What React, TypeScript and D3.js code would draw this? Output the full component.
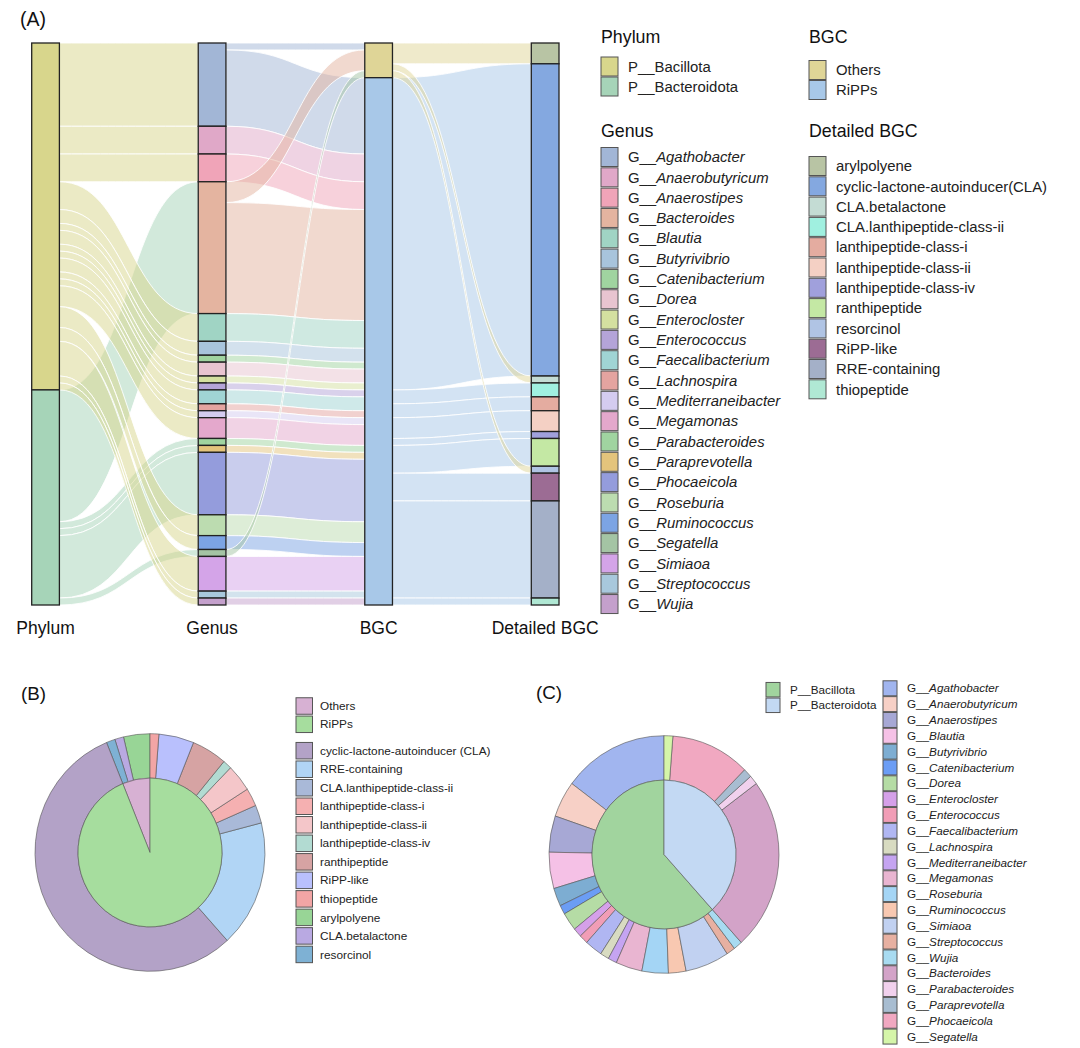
import React from 'react';
import * as d3 from 'd3';

const FONT = '"Liberation Sans", Arial, sans-serif';

// ---- Sankey data (A) ----
const phyla = ['P__Bacillota', 'P__Bacteroidota'];
const phylumColors = ['#d8d68c', '#a6d4b8'];

const genera = [
  'Agathobacter', 'Anaerobutyricum', 'Anaerostipes', 'Bacteroides', 'Blautia', 'Butyrivibrio',
  'Catenibacterium', 'Dorea', 'Enterocloster', 'Enterococcus', 'Faecalibacterium', 'Lachnospira',
  'Mediterraneibacter', 'Megamonas', 'Parabacteroides', 'Paraprevotella', 'Phocaeicola', 'Roseburia',
  'Ruminococcus', 'Segatella', 'Simiaoa', 'Streptococcus', 'Wujia',
];
// 0 = Bacillota, 1 = Bacteroidota
const genusPhylum = [0, 0, 0, 1, 0, 0, 0, 0, 0, 0, 0, 0, 0, 0, 1, 1, 1, 0, 0, 1, 0, 0, 0];
const genusCount = [12, 4, 4, 19, 4, 2, 1, 2, 1, 1, 2, 1, 1, 3, 1, 1, 9, 3, 2, 1, 5, 1, 1];
const genusToOthers = [1, 0, 0, 3, 0, 0, 0, 0, 0, 0, 0, 0, 0, 0, 0, 0, 0, 0, 0, 1, 0, 0, 0];
const genusColors = [
  '#a2b6d6', '#e0a8c8', '#f0a4b8', '#e4b4a0', '#a0d4c4', '#a8c4dc',
  '#a0d4a0', '#e8c4d0', '#d4e0a0', '#b4a4d8', '#a0d4d4', '#e4a4a0',
  '#d4ccf0', '#e4a8cc', '#a0d4a0', '#e4c47c', '#949cdc', '#bcdcb0',
  '#7ca4e4', '#a4c4a4', '#d4a4e8', '#a8c8dc', '#c4a0cc',
];

const bgcTypes = ['Others', 'RiPPs'];
const bgcColors = ['#dfd597', '#a8c8e8'];

const detailed = [
  'arylpolyene', 'cyclic-lactone-autoinducer(CLA)', 'CLA.betalactone', 'CLA.lanthipeptide-class-ii',
  'lanthipeptide-class-i', 'lanthipeptide-class-ii', 'lanthipeptide-class-iv', 'ranthipeptide',
  'resorcinol', 'RiPP-like', 'RRE-containing', 'thiopeptide',
];
// 0 = Others, 1 = RiPPs
const detailedType = [0, 1, 0, 1, 1, 1, 1, 1, 0, 1, 1, 1];
const detailedCount = [3, 45, 1, 2, 2, 3, 1, 4, 1, 4, 14, 1];
const detailedColors = [
  '#b8c4a4', '#84a8e0', '#c4dcd4', '#a0f0e0', '#e4aca0', '#f4d0c4',
  '#a0a0dc', '#c4e8a4', '#b0c4e4', '#9c6c94', '#a4b0c8', '#b0e8d4',
];
const axisLabels = ['Phylum', 'Genus', 'BGC', 'Detailed BGC'];

// ---- Pie B data ----
const pieBInner = ['Others', 'RiPPs'];
const pieBInnerColors = ['#d7b1d3', '#a6dd9e'];
const pieBLegend = [
  'cyclic-lactone-autoinducer (CLA)', 'RRE-containing', 'CLA.lanthipeptide-class-ii', 'lanthipeptide-class-i',
  'lanthipeptide-class-ii', 'lanthipeptide-class-iv', 'ranthipeptide', 'RiPP-like', 'thiopeptide',
  'arylpolyene', 'CLA.betalactone', 'resorcinol',
];
const pieBLegendColors = [
  '#b3a2c7', '#b1d5f5', '#a9b9d8', '#f5b0b1', '#f4c6c9', '#b2dbd2',
  '#d6a3a3', '#b9c0fd', '#f2a5a5', '#98d596', '#b9a9e2', '#7eb1d4',
];
// ring order, counter-clockwise from 12 o'clock
const pieBOuterOrder = [
  'arylpolyene', 'CLA.betalactone', 'resorcinol', 'cyclic-lactone-autoinducer (CLA)', 'RRE-containing',
  'CLA.lanthipeptide-class-ii', 'lanthipeptide-class-i', 'lanthipeptide-class-ii', 'lanthipeptide-class-iv',
  'ranthipeptide', 'RiPP-like', 'thiopeptide',
];
const pieBOuterValues = [3, 1, 1, 45, 14, 2, 2, 3, 1, 4, 4, 1];

// ---- Pie C data ----
const pieCInner = ['P__Bacillota', 'P__Bacteroidota'];
const pieCInnerColors = ['#a1d49e', '#c3d9f3'];
const pieCOuter = [
  'Agathobacter', 'Anaerobutyricum', 'Anaerostipes', 'Blautia', 'Butyrivibrio', 'Catenibacterium',
  'Dorea', 'Enterocloster', 'Enterococcus', 'Faecalibacterium', 'Lachnospira', 'Mediterraneibacter',
  'Megamonas', 'Roseburia', 'Ruminococcus', 'Simiaoa', 'Streptococcus', 'Wujia',
  'Bacteroides', 'Parabacteroides', 'Paraprevotella', 'Phocaeicola', 'Segatella',
];
const pieCOuterValues = [12, 4, 4, 4, 2, 1, 2, 1, 1, 2, 1, 1, 3, 3, 2, 5, 1, 1, 19, 1, 1, 9, 1];
const pieCOuterColors = [
  '#a1b5ef', '#f7d0c6', '#a7a8d5', '#f5c1e6', '#7dadd2', '#6b9df5',
  '#b5dca5', '#d5a0e9', '#f19db6', '#b0b6f2', '#d8dbc1', '#c5a4f1',
  '#e9b5d1', '#a4d5f5', '#f8c8b1', '#c1d1f1', '#e7b0a1', '#a8dbf1',
  '#d3a3c8', '#f1d1ed', '#a8bdd1', '#f1a8c1', '#d5f5a9',
];

// ---- Sankey layout ----
interface SNode { key: string; color: string; value: number; y0: number; y1: number; outs: SLink[]; ins: SLink[] }
interface SLink { source: SNode; target: SNode; value: number; sy0: number; sy1: number; ty0: number; ty1: number }

const NODE_W = 27.7;
const total = d3.sum(genusCount);
const yScale = d3.scaleLinear().domain([0, total]).range([43, 605]);
const xScale = d3.scalePoint<number>().domain([0, 1, 2, 3]).range([31.7, 531.3]);
const h = (v: number) => yScale(v) - yScale(0);

function buildSankey() {
  const mk = (key: string, color: string): SNode => ({ key, color, value: 0, y0: 0, y1: 0, outs: [], ins: [] });
  const stages: SNode[][] = [
    phyla.map((p, i) => mk(p, phylumColors[i])),
    genera.map((g, i) => mk(g, genusColors[i])),
    bgcTypes.map((b, i) => mk(b, bgcColors[i])),
    detailed.map((d, i) => mk(d, detailedColors[i])),
  ];
  const links: SLink[] = [];
  const add = (s: SNode, t: SNode, v: number) => {
    if (v <= 0) return;
    const l: SLink = { source: s, target: t, value: v, sy0: 0, sy1: 0, ty0: 0, ty1: 0 };
    s.outs.push(l);
    t.ins.push(l);
    links.push(l);
  };
  genera.forEach((_, i) => add(stages[0][genusPhylum[i]], stages[1][i], genusCount[i]));
  genera.forEach((_, i) => {
    add(stages[1][i], stages[2][0], genusToOthers[i]);
    add(stages[1][i], stages[2][1], genusCount[i] - genusToOthers[i]);
  });
  detailed.forEach((_, i) => add(stages[2][detailedType[i]], stages[3][i], detailedCount[i]));

  stages.forEach((col) => {
    let acc = 0;
    col.forEach((n) => {
      n.value = Math.max(d3.sum(n.ins, (l) => l.value), d3.sum(n.outs, (l) => l.value));
      n.y0 = yScale(acc);
      acc += n.value;
      n.y1 = yScale(acc);
    });
  });
  stages.forEach((col) =>
    col.forEach((n) => {
      let a = n.y0;
      n.outs.sort((p, q) => p.target.y0 - q.target.y0).forEach((l) => {
        l.sy0 = a; a += h(l.value); l.sy1 = a;
      });
      let b = n.y0;
      n.ins.sort((p, q) => p.source.y0 - q.source.y0).forEach((l) => {
        l.ty0 = b; b += h(l.value); l.ty1 = b;
      });
    })
  );
  return { stages, links };
}

const linkPath = (x0: number, x1: number, l: SLink) => {
  const xm = (x0 + x1) / 2;
  const p = d3.path();
  p.moveTo(x0, l.sy0);
  p.bezierCurveTo(xm, l.sy0, xm, l.ty0, x1, l.ty0);
  p.lineTo(x1, l.ty1);
  p.bezierCurveTo(xm, l.ty1, xm, l.sy1, x0, l.sy1);
  p.closePath();
  return p.toString();
};

const Sankey: React.FC = () => {
  const { stages, links } = buildSankey();
  const stageOf = new Map<SNode, number>();
  stages.forEach((col, i) => col.forEach((n) => stageOf.set(n, i)));
  return (
    <g>
      {links.map((l, i) => {
        const s = stageOf.get(l.source)!;
        const x0 = (xScale(s) as number) + NODE_W;
        const x1 = xScale(s + 1) as number;
        return (
          <path key={i} d={linkPath(x0, x1, l)} fill={l.source.color} fillOpacity={0.5}
            stroke="#fff" strokeWidth={1} strokeOpacity={0.85} />
        );
      })}
      {stages.map((col, si) =>
        col.map((n) => (
          <rect key={si + n.key} x={xScale(si)} y={n.y0} width={NODE_W} height={n.y1 - n.y0}
            fill={n.color} stroke="#222" strokeWidth={1.3} />
        ))
      )}
      {axisLabels.map((t, i) => (
        <text key={t} x={(xScale(i) as number) + NODE_W / 2} y={634} textAnchor="middle"
          fontSize={17.5} fill="#111">{t}</text>
      ))}
    </g>
  );
};

// ---- Legends ----
interface LegendProps {
  x: number; title?: string; titleY?: number; items: string[]; colors: string[];
  y0: number; step: number; sw: number; sh: number; fontSize: number; textDx: number; italicPrefix?: string;
}
const Legend: React.FC<LegendProps> = ({ x, title, titleY, items, colors, y0, step, sw, sh, fontSize, textDx, italicPrefix }) => (
  <g>
    {title && <text x={x} y={titleY} fontSize={17.8} fill="#111">{title}</text>}
    {items.map((it, i) => {
      const cy = y0 + i * step;
      return (
        <g key={it + i}>
          <rect x={x} y={cy - sh / 2} width={sw} height={sh} fill={colors[i]} stroke="#555" strokeWidth={1} />
          <text x={x + textDx} y={cy + fontSize * 0.35} fontSize={fontSize} fill="#222">
            {italicPrefix ? (
              <>
                <tspan>{italicPrefix}</tspan>
                <tspan fontStyle="italic">{it}</tspan>
              </>
            ) : it}
          </text>
        </g>
      );
    })}
  </g>
);

// ---- Pies ----
interface DonutProps { cx: number; cy: number; inner: number[]; innerColors: string[]; outer: number[]; outerColors: string[] }
const Donut: React.FC<DonutProps> = ({ cx, cy, inner, innerColors, outer, outerColors }) => {
  const pie = d3.pie<number>().sort(null).startAngle(0).endAngle(-2 * Math.PI);
  const rIn = 72;
  const rOut = 115;
  const arcIn = d3.arc<d3.PieArcDatum<number>>().innerRadius(0).outerRadius(rIn);
  const arcOut = d3.arc<d3.PieArcDatum<number>>().innerRadius(rIn).outerRadius(rOut);
  return (
    <g transform={`translate(${cx},${cy}) scale(1,1.033)`}>
      {pie(outer).map((d, i) => (
        <path key={'o' + i} d={arcOut(d) || ''} fill={outerColors[i]} stroke="#555" strokeWidth={0.6} />
      ))}
      {pie(inner).map((d, i) => (
        <path key={'i' + i} d={arcIn(d) || ''} fill={innerColors[i]} stroke="#555" strokeWidth={0.6} />
      ))}
    </g>
  );
};

export default function App() {
  const bOuterColors = pieBOuterOrder.map((n) => pieBLegendColors[pieBLegend.indexOf(n)]);
  const bInnerValues = [
    d3.sum(detailedCount.filter((_, i) => detailedType[i] === 0)),
    d3.sum(detailedCount.filter((_, i) => detailedType[i] === 1)),
  ];
  const cInnerValues = [
    d3.sum(genusCount.filter((_, i) => genusPhylum[i] === 0)),
    d3.sum(genusCount.filter((_, i) => genusPhylum[i] === 1)),
  ];
  return (
    <svg width={1080} height={1048} style={{ position: 'absolute', left: 0, top: 0, background: '#fff' }}
      fontFamily={FONT}>
      <text x={20} y={26} fontSize={19.5} fill="#111">(A)</text>
      <Sankey />
      <Legend x={601} title="Phylum" titleY={43} items={phyla} colors={phylumColors}
        y0={66.5} step={20} sw={17} sh={19} fontSize={14.9} textDx={27} />
      <Legend x={601} title="Genus" titleY={137} items={genera} colors={genusColors} italicPrefix="G__"
        y0={157} step={20.32} sw={17} sh={19} fontSize={14.9} textDx={27} />
      <Legend x={809} title="BGC" titleY={43} items={bgcTypes} colors={bgcColors}
        y0={70} step={20} sw={17} sh={19} fontSize={14.9} textDx={27} />
      <Legend x={809} title="Detailed BGC" titleY={137} items={detailed} colors={detailedColors}
        y0={166} step={20.3} sw={17} sh={19} fontSize={14.9} textDx={27} />

      <text x={21} y={700} fontSize={18.8} fill="#111">(B)</text>
      <Donut cx={150} cy={852.5} inner={bInnerValues} innerColors={pieBInnerColors}
        outer={pieBOuterValues} outerColors={bOuterColors} />
      <Legend x={296} items={pieBInner} colors={pieBInnerColors}
        y0={706} step={18.3} sw={16.5} sh={16.5} fontSize={11.8} textDx={24} />
      <Legend x={296} items={pieBLegend} colors={pieBLegendColors}
        y0={750.7} step={18.52} sw={16.5} sh={16.5} fontSize={11.8} textDx={24} />

      <text x={536} y={699} fontSize={18.8} fill="#111">(C)</text>
      <Donut cx={664} cy={854.5} inner={cInnerValues} innerColors={pieCInnerColors}
        outer={pieCOuterValues} outerColors={pieCOuterColors} />
      <Legend x={766} items={pieCInner} colors={pieCInnerColors}
        y0={689.7} step={15.6} sw={14} sh={14.5} fontSize={11.7} textDx={24} />
      <Legend x={883} items={pieCOuter} colors={pieCOuterColors} italicPrefix="G__"
        y0={688.3} step={15.83} sw={14} sh={15} fontSize={11.7} textDx={24} />
    </svg>
  );
}
